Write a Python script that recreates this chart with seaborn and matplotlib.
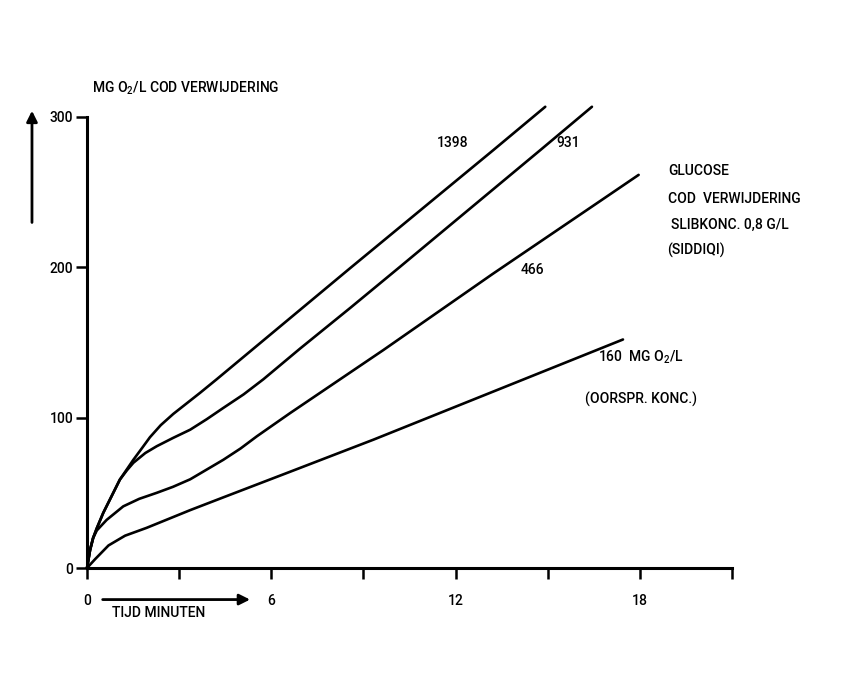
import matplotlib
matplotlib.use("Agg")
import matplotlib.pyplot as plt
import seaborn as sns
import pandas as pd

# ---- data ----
t_1398 = [0, 0.1, 0.2, 0.32, 0.53, 1.07, 1.51, 1.8, 2.05, 2.4, 2.81, 3.68, 4.22, 8.57, 13.23, 14.92]
y_1398 = [0, 12, 20, 26.5, 36.7, 58.8, 72, 80, 87, 95, 102.5, 116.5, 125.5, 199.5, 278, 306.8]

t_931 = [0, 0.1, 0.2, 0.32, 0.53, 1.07, 1.3, 1.51, 1.9, 2.27, 2.8, 3.36, 3.9, 4.44, 5.1,
         5.74, 6.94, 8.57, 10.2, 14.76, 16.44]
y_931 = [0, 12, 20, 26.5, 36.7, 58.8, 65, 70, 76.5, 81, 86.5, 92, 99, 106.5, 115.5,
         125.5, 146, 173, 200.5, 278, 306.8]

t_466 = [0, 0.1, 0.2, 0.32, 0.64, 1.18, 1.7, 2.27, 2.8, 3.36, 3.9, 4.44, 5.0, 5.53, 6.61,
         9.65, 13.2, 16.7, 17.96]
y_466 = [0, 12, 20, 25, 32, 41, 46, 50, 54, 59, 65.5, 72, 79.5, 87.6, 103,
         145, 195.5, 244, 261.5]

t_160 = [0, 0.27, 0.7, 1.24, 1.94, 3.36, 4.44, 6.61, 9.33, 13.0, 17.45]
y_160 = [0, 6, 15, 21.5, 26.7, 38.5, 47, 64, 85.4, 115.5, 152]

series_names = ["1398", "931", "466", "160"]
x_ticks = [0, 3, 6, 9, 12, 15, 18, 21]
x_ticklabels = ["0", "", "6", "", "12", "", "18", ""]
y_ticks = [0, 100, 200, 300]
y_ticklabels = ["0", "100", "200", "300"]

frames = []
for name, t, y in zip(series_names, [t_1398, t_931, t_466, t_160],
                      [y_1398, y_931, y_466, y_160]):
    frames.append(pd.DataFrame({"t": t, "cod": y, "conc": name}))
df = pd.concat(frames, ignore_index=True)

sns.set_style("white")
plt.rcParams["font.family"] = ["Roboto", "DejaVu Sans"]
plt.rcParams["font.weight"] = "medium"
plt.rcParams["mathtext.fontset"] = "custom"
plt.rcParams["mathtext.rm"] = "Roboto:medium"

fig = plt.figure(figsize=(8.58, 6.92), dpi=100)
ax = fig.add_axes([87 / 858, 124 / 692, 645 / 858, 451 / 692])

for name in series_names:
    sub = df[df["conc"] == name]
    sns.lineplot(data=sub, x="t", y="cod", ax=ax, color="black", lw=1.9,
                 sort=False, estimator=None, clip_on=False, legend=False)

ax.set_xlim(0, 21)
ax.set_ylim(0, 300)
ax.set_xlabel("")
ax.set_ylabel("")
for s in ["top", "right"]:
    ax.spines[s].set_visible(False)
for s in ["left", "bottom"]:
    ax.spines[s].set_linewidth(2.2)
    ax.spines[s].set_color("black")

ax.set_xticks(x_ticks)
ax.set_xticklabels(x_ticklabels, fontweight="medium")
ax.set_yticks(y_ticks)
ax.set_yticklabels(y_ticklabels, fontweight="medium")
ax.tick_params(axis="x", direction="out", length=8, width=1.8, pad=11,
               labelsize=10, colors="black", bottom=True)
ax.tick_params(axis="y", direction="out", length=8, width=1.8, pad=2,
               labelsize=10, colors="black", left=True)
ax.grid(False)

fs = 10
kw = dict(fontsize=fs, color="black", fontweight="medium")
ax.text(0.16, 319, r"MG O$_2$/L COD VERWIJDERING", ha="left", va="center", **kw)
ax.text(11.9, 283, "1398", ha="center", va="center", **kw)
ax.text(15.67, 283, "931", ha="center", va="center", **kw)
ax.text(14.5, 198, "466", ha="center", va="center", **kw)
ax.text(16.64, 140, r"160  MG O$_2$/L", ha="left", va="center", **kw)
ax.text(16.2, 112, "(OORSPR. KONC.)", ha="left", va="center", **kw)
ax.text(18.93, 264, "GLUCOSE", ha="left", va="center", **kw)
ax.text(18.93, 245.5, "COD  VERWIJDERING", ha="left", va="center", **kw)
ax.text(19.0, 228, "SLIBKONC. 0,8 G/L", ha="left", va="center", **kw)
ax.text(18.9, 211, "(SIDDIQI)", ha="left", va="center", **kw)
ax.text(0.82, -30, "TIJD MINUTEN", ha="left", va="center", **kw)

# arrows
ax.annotate("", xy=(5.4, -21), xytext=(0.42, -21), xycoords="data",
            arrowprops=dict(arrowstyle="-|>", color="black", lw=2,
                            mutation_scale=16), annotation_clip=False)
ax.annotate("", xy=(-0.0853, 306), xytext=(-0.0853, 228),
            xycoords=("axes fraction", "data"),
            arrowprops=dict(arrowstyle="-|>", color="black", lw=2,
                            mutation_scale=16), annotation_clip=False)

fig.savefig("out.png", dpi=100, facecolor="white")
